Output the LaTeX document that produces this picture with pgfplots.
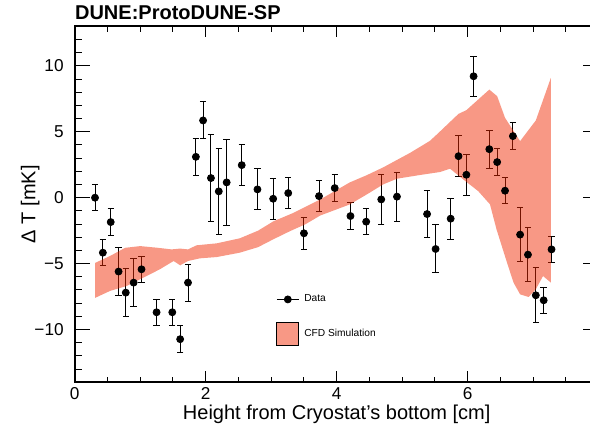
\documentclass[border=0pt]{standalone}
\usepackage{pgfplots}
\pgfplotsset{compat=1.18}
\usepackage{pgfplotstable}
\usepackage{fontspec}
\setmainfont{Liberation Sans}

% CFD band: red-orange fill laid over the data at half opacity
\definecolor{bandred}{RGB}{240,40,0}
\definecolor{bandlegend}{RGB}{248,152,133}

% Measured temperature differences: height, Delta T, uncertainty
\pgfplotstableread{
x     y      e
0.31  0.00   1.00
0.43  -4.17  1.00
0.55  -1.85  1.00
0.67  -5.60  1.80
0.78  -7.20  1.80
0.90  -6.44  1.80
1.02  -5.43  1.00
1.25  -8.69  1.00
1.49  -8.69  1.00
1.61  -10.73 1.00
1.73  -6.44  1.40
1.85  3.10   1.40
1.96  5.86   1.40
2.08  1.49   3.27
2.20  0.48   3.25
2.32  1.16   3.28
2.55  2.47   1.56
2.79  0.63   1.55
3.03  -0.08  1.55
3.26  0.35   1.15
3.50  -2.70  1.22
3.73  0.12   1.20
3.97  0.73   1.00
4.21  -1.39  1.00
4.45  -1.82  1.00
4.68  -0.13  1.90
4.92  0.08   1.85
5.38  -1.24  1.80
5.51  -3.89  1.82
5.74  -1.59  1.55
5.86  3.15   1.55
5.98  1.74   1.55
6.09  9.21   1.50
6.33  3.68   1.44
6.45  2.70   1.00
6.57  0.53   1.00
6.69  4.67   1.00
6.80  -2.80  2.06
6.92  -4.32  2.07
7.04  -7.40  2.07
7.16  -7.78  1.00
7.28  -3.92  1.00
}\datatable

% Simulation envelope: upper edge left to right, then lower edge right to left
\pgfplotstableread{
x     y
0.31  -4.95
0.54  -4.42
0.77  -3.80
1.00  -3.67
1.25  -3.79
1.48  -3.92
1.61  -3.86
1.73  -3.92
1.86  -3.61
2.17  -3.46
2.52  -3.08
2.80  -2.50
3.03  -1.80
3.34  -1.15
3.75  -0.13
4.20  1.16
4.46  1.71
4.71  2.30
5.12  3.40
5.42  4.30
5.53  4.80
5.86  6.36
5.98  6.64
6.33  8.20
6.45  7.70
6.57  6.06
6.80  4.29
7.04  5.86
7.27  9.09
7.27  -6.44
7.15  -5.94
7.04  -6.95
6.93  -7.53
6.80  -7.33
6.70  -6.44
6.60  -4.92
6.44  -2.40
6.34  -0.50
6.16  0.50
5.98  1.20
5.73  2.20
5.58  1.95
5.27  1.72
4.92  1.44
4.71  1.01
4.46  0.25
4.20  -0.51
3.75  -1.35
3.52  -2.02
3.29  -2.53
3.03  -3.16
2.80  -3.75
2.52  -4.17
2.17  -4.50
1.91  -4.60
1.73  -4.80
1.61  -5.13
1.51  -4.80
1.30  -5.43
1.05  -6.06
0.79  -6.70
0.54  -7.07
0.31  -7.60
}\bandtable

\begin{document}
\begin{tikzpicture}
\begin{axis}[
  at={(0,0)}, anchor=south west,
  scale only axis,
  width=262pt, height=178pt,
  xmin=0, xmax=8, ymin=-14, ymax=13,
  axis line style={line width=1pt, black},
  xtick={0,2,4,6},
  minor xtick={0.5,1,1.5,2.5,3,3.5,4.5,5,5.5,6.5,7,7.5},
  ytick={-10,-5,0,5,10},
  yticklabels={−10,−5,0,5,10},
  minor ytick={-13,-12,-11,-9,-8,-7,-6,-4,-3,-2,-1,1,2,3,4,6,7,8,9,11,12},
  tick align=inside,
  tick pos=both,
  tick style={line width=0.5pt, black},
  major tick length=7.8pt,
  minor tick length=3.9pt,
  x tick style={/pgfplots/major tick length=5.5pt, /pgfplots/minor tick length=2.8pt},
  /pgf/number format/assume math mode=true,
  tick label style={font=\fontsize{8.6}{10}\selectfont},
  xticklabel style={yshift=1pt},
  yticklabel style={xshift=-2pt},
  xlabel={Height from Cryostat's bottom [cm]},
  ylabel={Δ T [mK]},
  label style={font=\fontsize{10}{12}\selectfont},
  every axis x label/.style={at={(axis description cs:0.5,-0.089)}, anchor=center},
  every axis y label/.style={at={(axis description cs:-0.085,0.5)}, rotate=90, anchor=center},
  title={DUNE:ProtoDUNE-SP},
  every axis title/.style={at={(axis description cs:0,1)}, anchor=base west, inner sep=0pt,
    yshift=3.3pt, font=\bfseries\fontsize{10}{12}\selectfont},
  legend style={at={(axis description cs:0.384,0.248)}, anchor=north west,
    draw=none, fill=none, inner sep=0pt, row sep=9pt, column sep=2.5pt,
    font=\fontsize{5.1}{6}\selectfont, nodes={inner sep=0pt}},
  legend cell align=left,
]
\addplot[only marks, mark=*, mark size=1.75pt, black,
  legend image code/.code={
    \draw[black, line width=0.5pt] (0pt,0pt) -- (11pt,0pt);
    \fill[black] (5.5pt,0pt) circle (1.75pt);},
  error bars/.cd, y dir=both, y explicit,
  error bar style={line width=0.5pt, black},
  error mark options={rotate=90, mark size=1.6pt, line width=0.5pt, black},
  ] table[x=x, y=y, y error=e] {\datatable};
\addlegendentry{Data}
\addplot[fill=bandred, fill opacity=0.48, draw=none,
  legend image code/.code={
    \draw[black, line width=0.5pt, fill=bandlegend, fill opacity=1]
      (0pt,-5.75pt) rectangle (11pt,5.75pt);},
  ] table[x=x, y=y] {\bandtable} -- cycle;
\addlegendentry{CFD Simulation}
\end{axis}
\pgfresetboundingbox
\useasboundingbox (-37.35pt,-24.85pt) rectangle (257.65pt,191.15pt);
\end{tikzpicture}
\end{document}
